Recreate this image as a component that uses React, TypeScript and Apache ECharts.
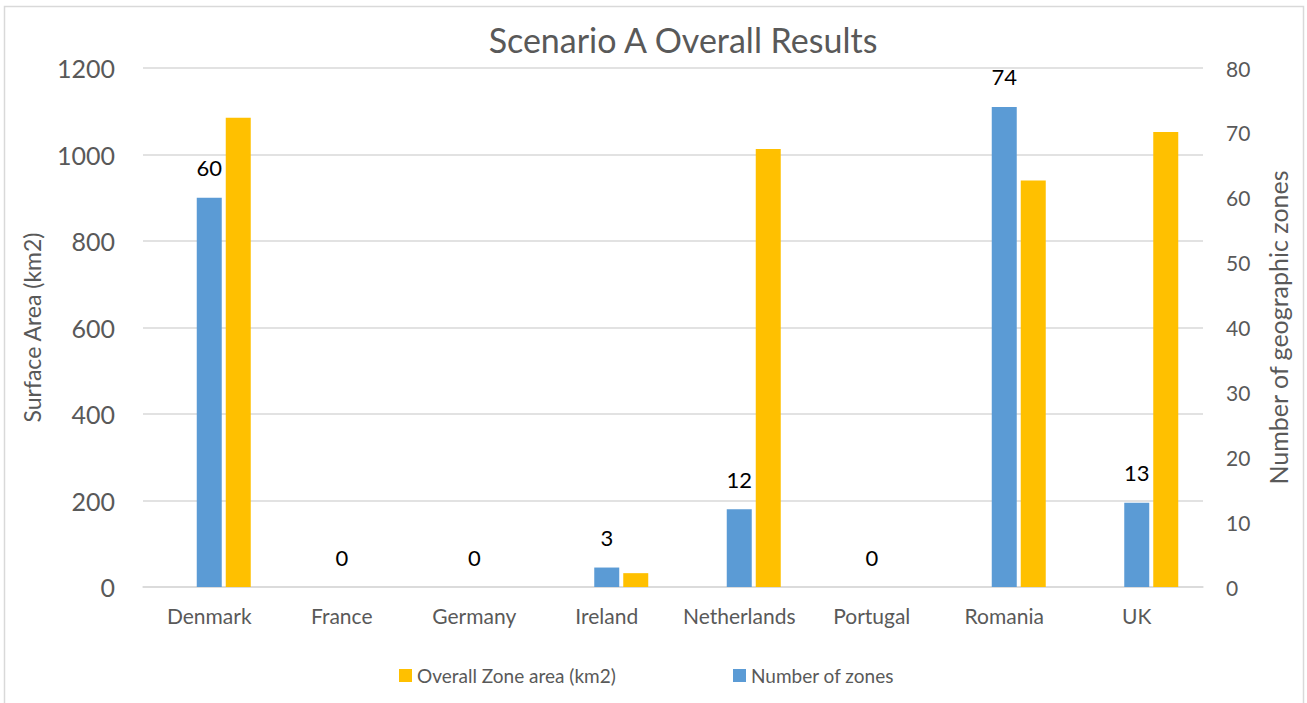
import React, { useEffect, useRef } from "react";
import * as echarts from "echarts";

const categories = ["Denmark", "France", "Germany", "Ireland", "Netherlands", "Portugal", "Romania", "UK"];
const zoneArea = [1085, null, null, 32, 1013, null, 940, 1052];
const numberOfZones = [60, 0, 0, 3, 12, 0, 74, 13];
const leftTicks = { min: 0, max: 1200, interval: 200 };
const rightTicks = { min: 0, max: 80, interval: 10 };

const FONT = "Lato";
const GRAY = "#595959";

export default function App() {
  const ref = useRef<HTMLDivElement>(null);
  useEffect(() => {
    if (!ref.current) return;
    const chart = echarts.init(ref.current, undefined, { renderer: "svg" });
    chart.setOption({
      animation: false,
      backgroundColor: "#ffffff",
      textStyle: { fontFamily: FONT },
      title: {
        text: "Scenario A Overall Results",
        left: 678,
        textAlign: "center",
        top: 17,
        textStyle: { fontFamily: FONT, fontSize: 34, fontWeight: "normal", color: GRAY },
      },
      graphic: [
        {
          type: "rect",
          shape: { x: 4.5, y: 6.5, width: 1299, height: 720 },
          style: { fill: "none", stroke: "#d9d9d9", lineWidth: 1.5 },
          silent: true,
        },
      ],
      legend: [
        {
          data: ["Overall Zone area (km2)"],
          left: 394,
          top: 661,
          icon: "rect",
          itemWidth: 13,
          itemHeight: 13,
          itemGap: 0,
          textStyle: { fontFamily: FONT, fontSize: 19, color: GRAY },
        },
        {
          data: ["Number of zones"],
          left: 728,
          top: 661,
          icon: "rect",
          itemWidth: 13,
          itemHeight: 13,
          textStyle: { fontFamily: FONT, fontSize: 19, color: GRAY },
        },
      ],
      grid: { left: 143, right: 104, top: 68, bottom: 116, containLabel: false },
      xAxis: {
        type: "category",
        data: categories,
        axisLine: { show: true, lineStyle: { color: "#d9d9d9", width: 1.5 } },
        axisTick: { show: false },
        axisLabel: { interval: 0, fontFamily: FONT, fontSize: 21, color: GRAY, margin: 18 },
      },
      yAxis: [
        {
          type: "value",
          min: leftTicks.min,
          max: leftTicks.max,
          interval: leftTicks.interval,
          name: "Surface Area (km2)",
          nameLocation: "middle",
          nameRotate: 90,
          nameGap: 100,
          nameTextStyle: { fontFamily: FONT, fontSize: 23, color: GRAY },
          axisLine: { show: false },
          axisTick: { show: false },
          splitLine: { lineStyle: { color: "#d9d9d9", width: 1.5 } },
          axisLabel: {
            fontFamily: FONT,
            fontSize: 25,
            color: GRAY,
            margin: 28,
            formatter: (v: number) => String(v),
          },
        },
        {
          type: "value",
          min: rightTicks.min,
          max: rightTicks.max,
          interval: rightTicks.interval,
          name: "Number of geographic zones",
          nameLocation: "middle",
          nameRotate: 90,
          nameGap: 62,
          nameTextStyle: { fontFamily: FONT, fontSize: 25, color: GRAY },
          axisLine: { show: false },
          axisTick: { show: false },
          splitLine: { show: false },
          axisLabel: { fontFamily: FONT, fontSize: 21, color: GRAY, margin: 23 },
        },
      ],
      series: [
        {
          name: "_spacer",
          type: "bar",
          yAxisIndex: 0,
          data: categories.map(() => null),
          barWidth: 25,
          barGap: "16%",
          silent: true,
        },
        {
          name: "Number of zones",
          type: "bar",
          yAxisIndex: 1,
          data: numberOfZones,
          barWidth: 25,
          barGap: "16%",
          itemStyle: { color: "#5B9BD5" },
          label: {
            show: true,
            position: "top",
            distance: 19,
            fontFamily: FONT,
            fontSize: 22,
            color: "#000000",
          },
        },
        {
          name: "Overall Zone area (km2)",
          type: "bar",
          yAxisIndex: 0,
          data: zoneArea,
          barWidth: 25,
          barGap: "16%",
          itemStyle: { color: "#FFC000" },
        },
      ],
    });
    return () => chart.dispose();
  }, []);
  return (
    <div
      ref={ref}
      style={{ position: "fixed", left: 0, top: 0, width: 1307, height: 703, background: "#fff" }}
    />
  );
}
